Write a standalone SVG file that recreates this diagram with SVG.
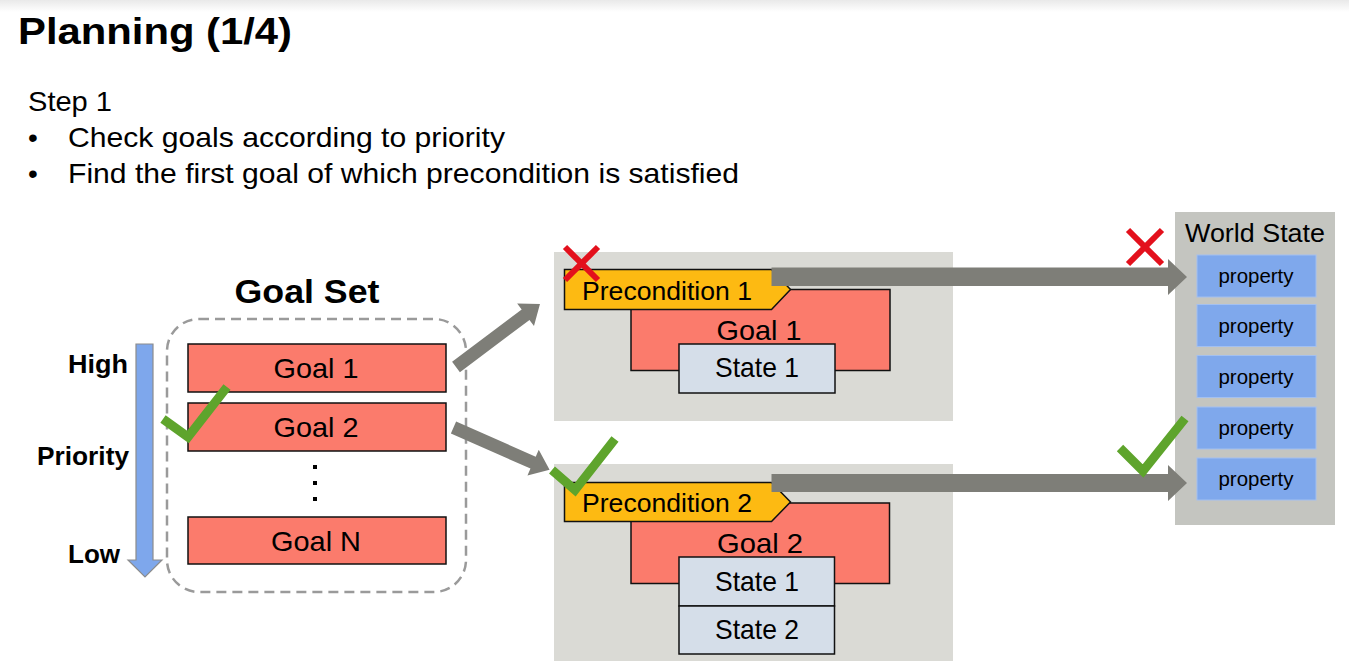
<svg xmlns="http://www.w3.org/2000/svg" width="1349" height="665" viewBox="0 0 1349 665">
<defs>
<linearGradient id="topg" x1="0" y1="0" x2="0" y2="1"><stop offset="0" stop-color="#e9e9e9"/><stop offset="1" stop-color="#ffffff"/></linearGradient>
<style>
text{font-family:"Liberation Sans",Arial,Helvetica,sans-serif;fill:#000}
.b{font-weight:bold}
.goal{fill:#fb7b6c;stroke:#111;stroke-width:1.5}
.state{fill:#d5dee9;stroke:#111;stroke-width:1.5}
.pre{fill:#fdba12;stroke:#111;stroke-width:1.5}
.panel{fill:#dadad5}
.prop{fill:#7fa8ec;stroke:#a3c0f0;stroke-width:1}
.arr{fill:#7e7e78}
.ok{fill:none;stroke:#5ea42c;stroke-width:9;stroke-linejoin:miter}
.no{stroke:#e3101c;stroke-width:6}
.t28{font-size:28px}
.t26{font-size:26px}
.t20{font-size:20px}
.m{text-anchor:middle}
.e{text-anchor:end}
</style>
</defs>
<rect x="0" y="0" width="1349" height="665" fill="#ffffff"/>
<rect x="0" y="0" width="1349" height="12" fill="url(#topg)"/>

<g id="title">
<text class="b" x="18" y="44" font-size="37" textLength="274" lengthAdjust="spacingAndGlyphs">Planning (1/4)</text>
<text class="t28" x="28" y="111" textLength="84" lengthAdjust="spacingAndGlyphs">Step 1</text>
<text class="t28" x="28" y="147">•</text>
<text class="t28" x="68" y="147" textLength="437" lengthAdjust="spacingAndGlyphs">Check goals according to priority</text>
<text class="t28" x="28" y="183">•</text>
<text class="t28" x="68" y="183" textLength="671" lengthAdjust="spacingAndGlyphs">Find the first goal of which precondition is satisfied</text>
</g>

<g id="priority">
<polygon points="136,344 153,344 153,560 162,560 145,577 128,560 136,560" fill="#7ea7ec" stroke="#8c8c8c" stroke-width="1.2"/>
<text class="b e" x="128" y="373" font-size="25" textLength="60" lengthAdjust="spacingAndGlyphs">High</text>
<text class="b e" x="129" y="465" font-size="25" textLength="92" lengthAdjust="spacingAndGlyphs">Priority</text>
<text class="b e" x="120" y="563" font-size="25" textLength="52" lengthAdjust="spacingAndGlyphs">Low</text>
</g>

<g id="goal-set">
<text class="b m" x="307" y="303" font-size="33" textLength="145" lengthAdjust="spacingAndGlyphs">Goal Set</text>
<rect x="167" y="319" width="299" height="273" rx="32" fill="none" stroke="#9a9a9a" stroke-width="2.5" stroke-dasharray="10 6"/>
<g id="goal-1"><rect class="goal" x="188" y="344" width="258" height="48"/><text class="t28 m" x="316" y="378" textLength="85" lengthAdjust="spacingAndGlyphs">Goal 1</text></g>
<g id="goal-2"><rect class="goal" x="188" y="403" width="258" height="48"/><text class="t28 m" x="316" y="437" textLength="85" lengthAdjust="spacingAndGlyphs">Goal 2</text></g>
<g id="dots"><rect x="313" y="465" width="4" height="4"/><rect x="313" y="481" width="4" height="4"/><rect x="313" y="497" width="4" height="4"/></g>
<g id="goal-n"><rect class="goal" x="188" y="517" width="258" height="47"/><text class="t28 m" x="316" y="551" textLength="90" lengthAdjust="spacingAndGlyphs">Goal N</text></g>
</g>

<g id="panel-goal1">
<rect class="panel" x="554" y="252" width="399" height="169"/>
<rect class="goal" x="631" y="289.5" width="259" height="81"/>
<text class="t28 m" x="759" y="340" textLength="85" lengthAdjust="spacingAndGlyphs">Goal 1</text>
<rect class="state" x="679" y="344" width="156" height="49"/>
<text class="t28 m" x="757" y="377" textLength="84" lengthAdjust="spacingAndGlyphs">State 1</text>
<polygon class="pre" points="564.5,269.5 771.5,269.5 790.5,289.5 771.5,309.5 564.5,309.5"/>
<text class="t26" x="582" y="300" textLength="170" lengthAdjust="spacingAndGlyphs">Precondition 1</text>
</g>

<g id="panel-goal2">
<rect class="panel" x="554" y="464" width="399" height="197"/>
<rect class="goal" x="631" y="503" width="258.5" height="80.5"/>
<text class="t28 m" x="760" y="553" textLength="86" lengthAdjust="spacingAndGlyphs">Goal 2</text>
<rect class="state" x="679" y="557" width="155.5" height="49"/>
<text class="t28 m" x="757" y="591" textLength="84" lengthAdjust="spacingAndGlyphs">State 1</text>
<rect class="state" x="679" y="606" width="155.5" height="48"/>
<text class="t28 m" x="757" y="638.5" textLength="84" lengthAdjust="spacingAndGlyphs">State 2</text>
<polygon class="pre" points="564.5,482.5 771.5,482.5 790.5,502 771.5,521.5 564.5,521.5"/>
<text class="t26" x="582" y="512" textLength="170" lengthAdjust="spacingAndGlyphs">Precondition 2</text>
</g>

<g id="world-state">
<rect x="1175" y="212" width="160" height="313" fill="#c4c5c0"/>
<text x="1185" y="242" font-size="25" textLength="140" lengthAdjust="spacingAndGlyphs">World State</text>
<rect class="prop" x="1197" y="255" width="119" height="42"/>
<text class="t20 m" x="1256" y="283" textLength="75" lengthAdjust="spacingAndGlyphs">property</text>
<rect class="prop" x="1197" y="304.5" width="119" height="42"/>
<text class="t20 m" x="1256" y="332.5" textLength="75" lengthAdjust="spacingAndGlyphs">property</text>
<rect class="prop" x="1197" y="355.5" width="119" height="42"/>
<text class="t20 m" x="1256" y="383.5" textLength="75" lengthAdjust="spacingAndGlyphs">property</text>
<rect class="prop" x="1197" y="407" width="119" height="42"/>
<text class="t20 m" x="1256" y="435" textLength="75" lengthAdjust="spacingAndGlyphs">property</text>
<rect class="prop" x="1197" y="458" width="119" height="42"/>
<text class="t20 m" x="1256" y="486" textLength="75" lengthAdjust="spacingAndGlyphs">property</text>
</g>

<g id="connectors">
<path class="arr" transform="translate(456,367) rotate(-36.9)" d="M0,-6.5 L87,-6.5 L87,-14 L105,0 L87,14 L87,6.5 L0,6.5 Z"/>
<path class="arr" transform="translate(453.5,427.5) rotate(23.8)" d="M0,-6.5 L87,-6.5 L87,-14 L105,0 L87,14 L87,6.5 L0,6.5 Z"/>
<polygon class="arr" points="771.5,267.5 1168,267.5 1168,259 1187,277 1168,295 1168,286 771.5,286"/>
<polygon class="arr" points="771.5,474 1168,474 1168,465 1187,483 1168,501 1168,492 771.5,492"/>
</g>

<g id="marks">
<polyline class="ok" points="163,419 188,437 227,387"/>
<polyline class="ok" points="552,470 575,490 615,439"/>
<polyline class="ok" points="1120,448 1143,471 1185,418.5"/>
<line class="no" x1="565" y1="247" x2="598" y2="280"/>
<line class="no" x1="598" y1="247" x2="565" y2="280"/>
<line class="no" x1="1128" y1="230" x2="1162" y2="264"/>
<line class="no" x1="1162" y1="230" x2="1128" y2="264"/>
</g>
</svg>
